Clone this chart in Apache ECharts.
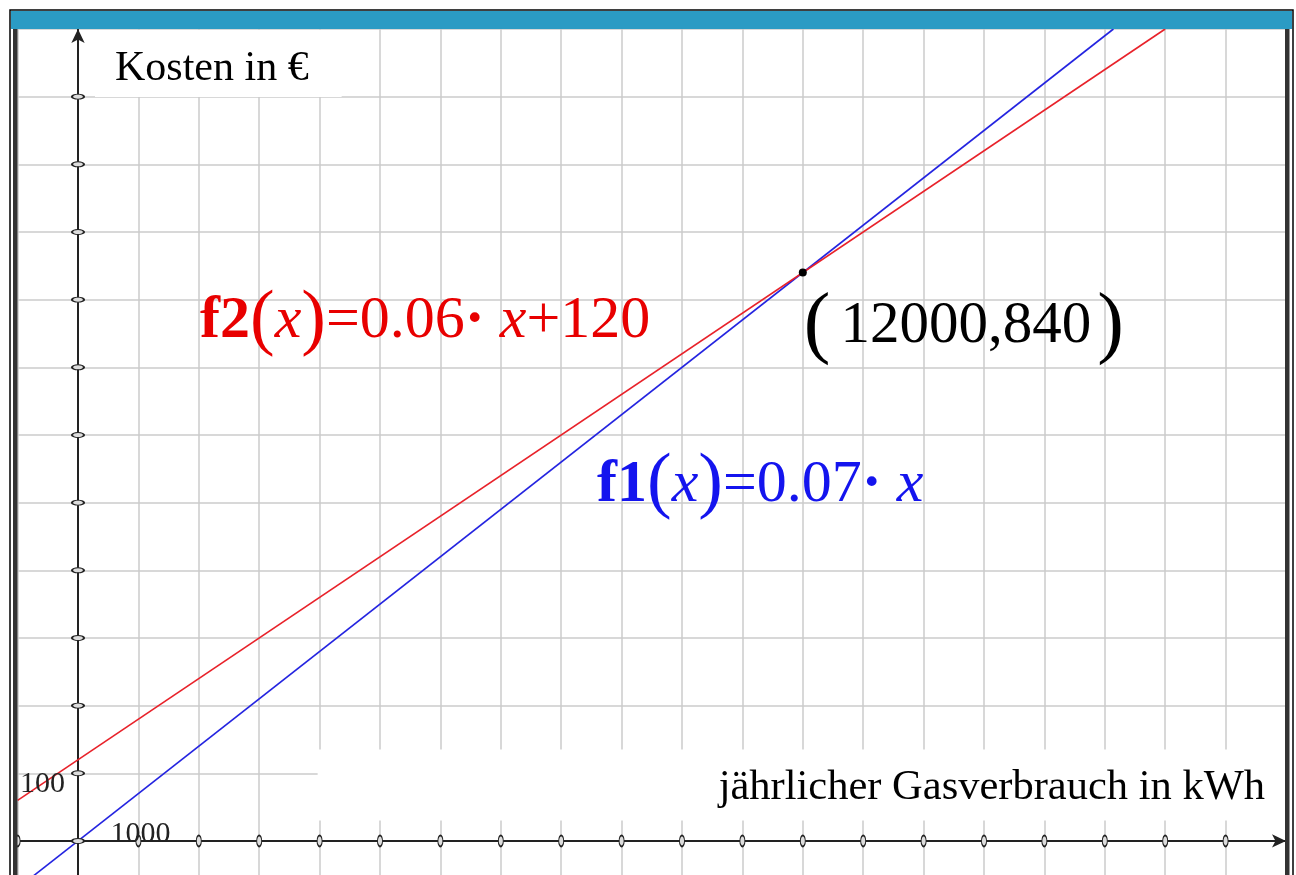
<!DOCTYPE html>
<html>
<head>
<meta charset="utf-8">
<title>Gaskosten</title>
<script src="https://cdn.jsdelivr.net/npm/echarts@6/dist/echarts.min.js"></script>
<style>
    html, body { margin: 0; padding: 0; background: #fff; }
    #main { width: 1296px; height: 875px; }
</style>
</head>
<body>
<div id="main"></div>
<script>
// f1(x) = 0.07 * x  (end points)
const f1X = [-1000, 17143]
const f1Y = [-70, 1200]
// f2(x) = 0.06 * x + 120
const f2X = [-1000, 18000]
const f2Y = [60, 1200]
// intersection
const pointX = [12000]
const pointY = [840]
// small oval tick marks on the axes
const xTickVals = [-1000, 1000, 2000, 3000, 4000, 5000, 6000, 7000, 8000, 9000, 10000,
    11000, 12000, 13000, 14000, 15000, 16000, 17000, 18000, 19000]
const yTickVals = [0, 100, 200, 300, 400, 500, 600, 700, 800, 900, 1000, 1100]
// only these tick labels are written
const xLabelShown = [1000]
const yLabelShown = [100]

const serif = '"Liberation Serif", "Times New Roman", serif'
const gridColor = '#cbcbcb'
const axisColor = '#222'
const red = '#e8222a'
const blue = '#2424e0'
const redText = '#e80000'
const blueText = '#1414ee'

function eqRich(color) {
    return {
        b: {fontFamily: serif, fontWeight: 'bold', fontSize: 60, color: color},
        p: {fontFamily: serif, fontSize: 74, color: color},
        i: {fontFamily: serif, fontStyle: 'italic', fontSize: 60, color: color},
        n: {fontFamily: serif, fontSize: 60, color: color},
        d: {fontFamily: serif, fontWeight: 'bold', fontSize: 60, color: color}
    }
}

const tickLabel = {fontFamily: serif, fontSize: 30, color: '#222'}

const chart = echarts.init(document.getElementById('main'))

const options = {
    animation: false,
    backgroundColor: '#fff',
    title: [
        {
            text: 'Kosten in €',
            left: 95,
            top: 30,
            backgroundColor: '#fff',
            padding: [18, 33, 7, 20],
            textStyle: {fontFamily: serif, fontWeight: 'normal', fontSize: 42, lineHeight: 42, color: '#000'}
        },
        {
            text: 'jährlicher Gasverbrauch in kWh',
            right: 9,
            top: 750,
            backgroundColor: '#fff',
            padding: [17, 22, 11, 401],
            textStyle: {fontFamily: serif, fontWeight: 'normal', fontSize: 42.5, lineHeight: 42, color: '#000'}
        }
    ],
    grid: {
        left: 17.6,
        top: 29,
        width: 1268.4,
        height: 879.6,
        containLabel: false,
        outerBoundsMode: 'none'
    },
    xAxis: {
        type: 'value',
        min: -1000,
        max: 20000,
        interval: 1000,
        splitLine: {show: true, lineStyle: {color: gridColor, width: 1.5}},
        axisLine: {
            onZero: true,
            symbol: ['none', 'arrow'],
            symbolSize: [10, 14],
            lineStyle: {color: axisColor, width: 2}
        },
        axisTick: {show: false},
        axisLabel: {show: false}
    },
    yAxis: {
        type: 'value',
        min: -100,
        max: 1200,
        interval: 100,
        splitLine: {show: true, lineStyle: {color: gridColor, width: 1.5}},
        axisLine: {
            onZero: true,
            symbol: ['none', 'arrow'],
            symbolSize: [10, 14],
            lineStyle: {color: axisColor, width: 2}
        },
        axisTick: {show: false},
        axisLabel: {show: false}
    },
    graphic: [
        // window frame like the handheld screen
        {type: 'rect', shape: {x: 10, y: 10, width: 1283, height: 900}, style: {fill: 'none', stroke: '#000', lineWidth: 1.5}, z: 100},
        {type: 'rect', shape: {x: 11, y: 11, width: 1281, height: 18}, style: {fill: '#2b9bc4'}, z: 100},
        {type: 'rect', shape: {x: 13, y: 29, width: 4.5, height: 880}, style: {fill: '#333'}, z: 100},
        {type: 'rect', shape: {x: 1285, y: 29, width: 4.5, height: 880}, style: {fill: '#333'}, z: 100}
    ],
    series: [
        {
            name: 'f1',
            type: 'line',
            data: f1X.map((x, i) => [x, f1Y[i]]),
            showSymbol: false,
            lineStyle: {color: blue, width: 1.6},
            z: 3,
            markPoint: {
                symbol: 'circle',
                symbolSize: 0,
                data: [{
                    coord: [8593, 526],
                    label: {
                        show: true,
                        position: 'right',
                        distance: 0,
                        formatter: '{b|f1}{p|(}{i|x}{p|)}{n|=0.07}{d|·}{i| x}',
                        rich: eqRich(blueText)
                    }
                }]
            }
        },
        {
            name: 'f2',
            type: 'line',
            data: f2X.map((x, i) => [x, f2Y[i]]),
            showSymbol: false,
            lineStyle: {color: red, width: 1.6},
            z: 3,
            markPoint: {
                symbol: 'circle',
                symbolSize: 0,
                data: [{
                    coord: [2020, 768],
                    label: {
                        show: true,
                        position: 'right',
                        distance: 0,
                        formatter: '{b|f2}{p|(}{i|x}{p|)}{n|=0.06}{d|·}{i| x}{n|+120}',
                        rich: eqRich(redText)
                    }
                }]
            }
        },
        {
            name: 'xticks',
            type: 'scatter',
            data: xTickVals.map(x => ({
                value: [x, 0],
                label: xLabelShown.includes(x)
                    ? Object.assign({show: true, position: 'inside', offset: [2, -7], formatter: String(x)}, tickLabel)
                    : {show: false}
            })),
            symbol: 'circle',
            symbolSize: [5, 11],
            itemStyle: {color: '#ddd', borderColor: '#222', borderWidth: 1.4, opacity: 1},
            z: 5,
            silent: true
        },
        {
            name: 'yticks',
            type: 'scatter',
            data: yTickVals.map(y => ({
                value: [0, y],
                label: yLabelShown.includes(y)
                    ? Object.assign({show: true, position: 'inside', align: 'right', offset: [-13, 11], formatter: String(y)}, tickLabel)
                    : {show: false}
            })),
            symbol: 'circle',
            symbolSize: [12, 5],
            itemStyle: {color: '#ddd', borderColor: '#222', borderWidth: 1.4, opacity: 1},
            z: 5,
            silent: true
        },
        {
            name: 'Schnittpunkt',
            type: 'scatter',
            data: pointX.map((x, i) => [x, pointY[i]]),
            symbol: 'circle',
            symbolSize: 8,
            itemStyle: {color: '#000', opacity: 1},
            z: 6,
            label: {
                show: true,
                position: 'bottom',
                align: 'left',
                verticalAlign: 'top',
                offset: [1, 5],
                color: '#000',
                formatter: '{p|(}{n|12000,840}{p|)}',
                rich: {
                    p: {fontFamily: serif, fontSize: 80, color: '#000'},
                    n: {fontFamily: serif, fontSize: 59, color: '#000', padding: [0, 6, 0, 10]}
                }
            }
        }
    ]
}

chart.setOption(options)
window.addEventListener('resize', () => chart.resize())
</script>
</body>
</html>
